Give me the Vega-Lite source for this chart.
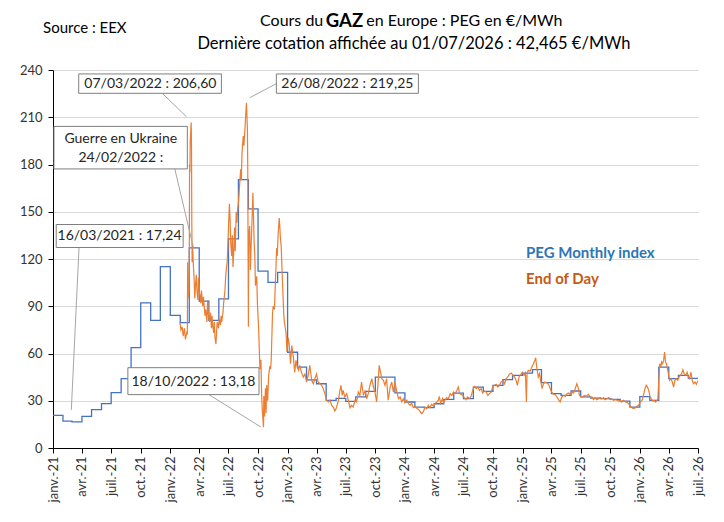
{
"$schema":"https://vega.github.io/schema/vega-lite/v6.json",
"width":645,"height":378,
"autosize":{"type":"none"},
"padding":{"left":53,"top":70,"right":26,"bottom":74},
"background":"white",
"config":{"view":{"stroke":null},"font":"Lato","text":{"font":"Lato"}},
"datasets":{
"monthly":[
{"d":"2021-01-01","v":20.7},{"d":"2021-02-01","v":17.1},{"d":"2021-03-01","v":16.6},{"d":"2021-04-01","v":20.1},{"d":"2021-05-01","v":24.4},{"d":"2021-06-01","v":28.2},{"d":"2021-07-01","v":35.1},{"d":"2021-08-01","v":44.0},{"d":"2021-09-01","v":63.7},{"d":"2021-10-01","v":92.2},{"d":"2021-11-01","v":81.0},{"d":"2021-12-01","v":115.2},
{"d":"2022-01-01","v":84.2},{"d":"2022-02-01","v":79.6},{"d":"2022-03-01","v":127.1},{"d":"2022-04-01","v":93.3},{"d":"2022-05-01","v":81.0},{"d":"2022-06-01","v":94.7},{"d":"2022-07-01","v":132.8},{"d":"2022-08-01","v":170.4},{"d":"2022-09-01","v":151.8},{"d":"2022-10-01","v":112.3},{"d":"2022-11-01","v":105.2},{"d":"2022-12-01","v":111.5},
{"d":"2023-01-01","v":60.8},{"d":"2023-02-01","v":51.4},{"d":"2023-03-01","v":43.2},{"d":"2023-04-01","v":40.8},{"d":"2023-05-01","v":30.3},{"d":"2023-06-01","v":31.5},{"d":"2023-07-01","v":29.6},{"d":"2023-08-01","v":32.5},{"d":"2023-09-01","v":36.0},{"d":"2023-10-01","v":45.0},{"d":"2023-11-01","v":45.0},{"d":"2023-12-01","v":35.0},
{"d":"2024-01-01","v":29.2},{"d":"2024-02-01","v":26.0},{"d":"2024-03-01","v":25.6},{"d":"2024-04-01","v":28.1},{"d":"2024-05-01","v":30.9},{"d":"2024-06-01","v":34.9},{"d":"2024-07-01","v":31.3},{"d":"2024-08-01","v":38.7},{"d":"2024-09-01","v":36.0},{"d":"2024-10-01","v":39.8},{"d":"2024-11-01","v":43.4},{"d":"2024-12-01","v":46.1},
{"d":"2025-01-01","v":47.5},{"d":"2025-02-01","v":49.8},{"d":"2025-03-01","v":41.5},{"d":"2025-04-01","v":34.5},{"d":"2025-05-01","v":33.4},{"d":"2025-06-01","v":36.2},{"d":"2025-07-01","v":32.4},{"d":"2025-08-01","v":31.7},{"d":"2025-09-01","v":31.3},{"d":"2025-10-01","v":30.9},{"d":"2025-11-01","v":29.8},{"d":"2025-12-01","v":26.0},
{"d":"2026-01-01","v":32.6},{"d":"2026-02-01","v":30.3},{"d":"2026-03-01","v":51.4},{"d":"2026-04-01","v":44.0},{"d":"2026-05-01","v":46.1},{"d":"2026-06-01","v":44.2},{"d":"2026-07-01","v":44.2}
],
"daily":[
{"d":"2022-01-31","v":79.5},{"d":"2022-02-03","v":75},{"d":"2022-02-07","v":77},{"d":"2022-02-10","v":71},{"d":"2022-02-14","v":76},{"d":"2022-02-17","v":69},{"d":"2022-02-21","v":73},{"d":"2022-02-23","v":72},{"d":"2022-02-24","v":118},{"d":"2022-02-25","v":95},{"d":"2022-02-28","v":100},
{"d":"2022-03-01","v":115},{"d":"2022-03-02","v":180},{"d":"2022-03-03","v":175},{"d":"2022-03-04","v":195},{"d":"2022-03-07","v":206.6},{"d":"2022-03-08","v":190},{"d":"2022-03-09","v":140},{"d":"2022-03-10","v":118},{"d":"2022-03-11","v":130},{"d":"2022-03-14","v":115},{"d":"2022-03-16","v":108},{"d":"2022-03-18","v":95},{"d":"2022-03-21","v":105},{"d":"2022-03-23","v":110},{"d":"2022-03-25","v":100},{"d":"2022-03-28","v":94},{"d":"2022-03-30","v":108},
{"d":"2022-04-01","v":100},{"d":"2022-04-04","v":96},{"d":"2022-04-06","v":92},{"d":"2022-04-08","v":100},{"d":"2022-04-12","v":90},{"d":"2022-04-14","v":96},{"d":"2022-04-19","v":84},{"d":"2022-04-21","v":88},{"d":"2022-04-25","v":80},{"d":"2022-04-27","v":94},{"d":"2022-04-29","v":86},
{"d":"2022-05-03","v":80},{"d":"2022-05-06","v":86},{"d":"2022-05-09","v":76},{"d":"2022-05-11","v":84},{"d":"2022-05-13","v":78},{"d":"2022-05-16","v":73},{"d":"2022-05-18","v":80},{"d":"2022-05-20","v":70},{"d":"2022-05-23","v":66},{"d":"2022-05-25","v":74},{"d":"2022-05-27","v":80},{"d":"2022-05-31","v":76},
{"d":"2022-06-02","v":82},{"d":"2022-06-06","v":78},{"d":"2022-06-08","v":84},{"d":"2022-06-10","v":80},{"d":"2022-06-14","v":86},{"d":"2022-06-16","v":92},{"d":"2022-06-20","v":100},{"d":"2022-06-22","v":108},{"d":"2022-06-24","v":113},{"d":"2022-06-27","v":118},{"d":"2022-06-29","v":128},
{"d":"2022-07-01","v":140},{"d":"2022-07-04","v":155},{"d":"2022-07-06","v":145},{"d":"2022-07-08","v":130},{"d":"2022-07-11","v":122},{"d":"2022-07-13","v":135},{"d":"2022-07-15","v":115},{"d":"2022-07-18","v":128},{"d":"2022-07-20","v":140},{"d":"2022-07-22","v":125},{"d":"2022-07-25","v":150},{"d":"2022-07-27","v":143},{"d":"2022-07-29","v":150},
{"d":"2022-08-02","v":158},{"d":"2022-08-04","v":165},{"d":"2022-08-08","v":177},{"d":"2022-08-10","v":170},{"d":"2022-08-12","v":187},{"d":"2022-08-16","v":198},{"d":"2022-08-18","v":192},{"d":"2022-08-22","v":205},{"d":"2022-08-24","v":213},{"d":"2022-08-26","v":219.25},{"d":"2022-08-29","v":202},{"d":"2022-08-30","v":177},
{"d":"2022-09-01","v":77},{"d":"2022-09-02","v":134},{"d":"2022-09-05","v":141},{"d":"2022-09-07","v":113},{"d":"2022-09-09","v":125},{"d":"2022-09-13","v":149},{"d":"2022-09-15","v":162},{"d":"2022-09-19","v":130},{"d":"2022-09-21","v":122},{"d":"2022-09-23","v":103},{"d":"2022-09-27","v":109},{"d":"2022-09-29","v":92},
{"d":"2022-10-03","v":75},{"d":"2022-10-05","v":62},{"d":"2022-10-07","v":50},{"d":"2022-10-10","v":56},{"d":"2022-10-12","v":35},{"d":"2022-10-14","v":25},{"d":"2022-10-18","v":13.18},{"d":"2022-10-19","v":33},{"d":"2022-10-21","v":20},{"d":"2022-10-24","v":38},{"d":"2022-10-26","v":22},{"d":"2022-10-28","v":40},{"d":"2022-10-31","v":30},
{"d":"2022-11-03","v":46},{"d":"2022-11-07","v":52},{"d":"2022-11-09","v":50},{"d":"2022-11-11","v":56},{"d":"2022-11-15","v":85},{"d":"2022-11-17","v":90},{"d":"2022-11-21","v":88},{"d":"2022-11-24","v":105},{"d":"2022-11-28","v":127},{"d":"2022-11-30","v":122},
{"d":"2022-12-02","v":134},{"d":"2022-12-06","v":146},{"d":"2022-12-08","v":140},{"d":"2022-12-09","v":135},{"d":"2022-12-12","v":128},{"d":"2022-12-15","v":111},{"d":"2022-12-20","v":85},{"d":"2022-12-22","v":80},{"d":"2022-12-27","v":73},{"d":"2022-12-30","v":61},
{"d":"2023-01-03","v":70},{"d":"2023-01-06","v":66},{"d":"2023-01-10","v":53.5},{"d":"2023-01-14","v":65},{"d":"2023-01-19","v":57.7},{"d":"2023-01-23","v":48},{"d":"2023-01-27","v":55.6},{"d":"2023-01-31","v":51.4},
{"d":"2023-02-04","v":49.3},{"d":"2023-02-08","v":52.5},{"d":"2023-02-13","v":48},{"d":"2023-02-19","v":45},{"d":"2023-02-24","v":47},{"d":"2023-03-01","v":41.9},{"d":"2023-03-06","v":46},{"d":"2023-03-11","v":52.5},{"d":"2023-03-17","v":43},{"d":"2023-03-22","v":40.8},{"d":"2023-03-27","v":44},
{"d":"2023-04-01","v":47},{"d":"2023-04-06","v":41.9},{"d":"2023-04-12","v":40.8},{"d":"2023-04-17","v":39.8},{"d":"2023-04-22","v":37.7},{"d":"2023-04-27","v":34.5},{"d":"2023-05-02","v":30.3},{"d":"2023-05-08","v":29.2},{"d":"2023-05-13","v":30.3},{"d":"2023-05-18","v":27.1},{"d":"2023-05-23","v":26},{"d":"2023-05-28","v":23.5},
{"d":"2023-06-02","v":25.6},{"d":"2023-06-08","v":30.3},{"d":"2023-06-13","v":36.6},{"d":"2023-06-16","v":39.8},{"d":"2023-06-20","v":33.4},{"d":"2023-06-23","v":36.6},{"d":"2023-06-28","v":32.4},{"d":"2023-07-04","v":34.5},{"d":"2023-07-09","v":30.3},{"d":"2023-07-14","v":25.6},{"d":"2023-07-19","v":27.1},{"d":"2023-07-24","v":26},{"d":"2023-07-30","v":30.3},
{"d":"2023-08-04","v":29.2},{"d":"2023-08-09","v":35.5},{"d":"2023-08-14","v":33.4},{"d":"2023-08-19","v":41.9},{"d":"2023-08-25","v":33.4},{"d":"2023-08-30","v":36.6},{"d":"2023-09-04","v":31.3},{"d":"2023-09-09","v":34.5},{"d":"2023-09-14","v":39.8},{"d":"2023-09-20","v":44},{"d":"2023-09-25","v":38.7},{"d":"2023-09-30","v":35.5},
{"d":"2023-10-05","v":29.2},{"d":"2023-10-10","v":43},{"d":"2023-10-13","v":52.5},{"d":"2023-10-18","v":47.2},{"d":"2023-10-21","v":44},{"d":"2023-10-26","v":43},{"d":"2023-10-31","v":39.8},{"d":"2023-11-05","v":44},{"d":"2023-11-10","v":30.3},{"d":"2023-11-16","v":38.7},{"d":"2023-11-21","v":41.9},{"d":"2023-11-26","v":35.5},
{"d":"2023-12-01","v":41.9},{"d":"2023-12-06","v":36.6},{"d":"2023-12-12","v":31.3},{"d":"2023-12-17","v":32.4},{"d":"2023-12-22","v":29.2},{"d":"2023-12-27","v":31.3},{"d":"2024-01-01","v":28.6},{"d":"2024-01-07","v":30.3},{"d":"2024-01-12","v":28.2},{"d":"2024-01-17","v":27.1},{"d":"2024-01-22","v":28.6},{"d":"2024-01-27","v":25.6},
{"d":"2024-02-02","v":26.5},{"d":"2024-02-07","v":25.2},{"d":"2024-02-15","v":23.9},{"d":"2024-02-22","v":21.8},{"d":"2024-02-27","v":22.9},{"d":"2024-03-04","v":26},{"d":"2024-03-09","v":25},{"d":"2024-03-14","v":27.1},{"d":"2024-03-19","v":25.6},{"d":"2024-03-24","v":27.7},{"d":"2024-03-30","v":26.5},
{"d":"2024-04-04","v":28.2},{"d":"2024-04-09","v":29.2},{"d":"2024-04-14","v":30.3},{"d":"2024-04-17","v":32.8},{"d":"2024-04-21","v":28.6},{"d":"2024-04-27","v":31.3},{"d":"2024-04-30","v":28.6},{"d":"2024-05-05","v":30.3},{"d":"2024-05-10","v":32},{"d":"2024-05-15","v":31.3},{"d":"2024-05-21","v":34.5},{"d":"2024-05-26","v":33.4},{"d":"2024-05-31","v":35.5},
{"d":"2024-06-05","v":34.5},{"d":"2024-06-10","v":36.2},{"d":"2024-06-15","v":38.7},{"d":"2024-06-19","v":34.9},{"d":"2024-06-23","v":34.1},{"d":"2024-06-29","v":33.4},{"d":"2024-07-04","v":32},{"d":"2024-07-09","v":30.7},{"d":"2024-07-14","v":32.4},{"d":"2024-07-20","v":31.3},{"d":"2024-07-25","v":32.8},{"d":"2024-07-30","v":36.6},
{"d":"2024-08-04","v":39.1},{"d":"2024-08-10","v":37.7},{"d":"2024-08-15","v":38.7},{"d":"2024-08-20","v":36.6},{"d":"2024-08-25","v":37.7},{"d":"2024-08-30","v":34.9},{"d":"2024-09-04","v":36.2},{"d":"2024-09-10","v":35.5},{"d":"2024-09-15","v":33.4},{"d":"2024-09-20","v":34.5},{"d":"2024-09-25","v":35.5},{"d":"2024-09-30","v":38.7},
{"d":"2024-10-06","v":39.8},{"d":"2024-10-11","v":40.4},{"d":"2024-10-16","v":38.7},{"d":"2024-10-21","v":39.8},{"d":"2024-10-26","v":41.9},{"d":"2024-11-01","v":43},{"d":"2024-11-06","v":40.8},{"d":"2024-11-11","v":44},{"d":"2024-11-16","v":45.1},{"d":"2024-11-21","v":46.8},{"d":"2024-11-27","v":47.6},
{"d":"2024-12-02","v":46.1},{"d":"2024-12-07","v":45.1},{"d":"2024-12-12","v":43},{"d":"2024-12-16","v":39.8},{"d":"2024-12-21","v":45.1},{"d":"2024-12-27","v":46.8},{"d":"2025-01-01","v":48.2},{"d":"2025-01-06","v":46.1},{"d":"2025-01-10","v":47.6},{"d":"2025-01-13","v":29.2},{"d":"2025-01-15","v":47.2},{"d":"2025-01-19","v":49.3},{"d":"2025-01-25","v":48.9},{"d":"2025-01-30","v":51.4},
{"d":"2025-02-04","v":53.5},{"d":"2025-02-08","v":55.6},{"d":"2025-02-11","v":57.3},{"d":"2025-02-14","v":51.4},{"d":"2025-02-19","v":45.1},{"d":"2025-02-23","v":47.2},{"d":"2025-02-27","v":41.9},{"d":"2025-03-03","v":37.7},{"d":"2025-03-07","v":40.8},{"d":"2025-03-12","v":41.9},{"d":"2025-03-18","v":41.3},{"d":"2025-03-23","v":40.4},{"d":"2025-03-28","v":37.7},
{"d":"2025-04-02","v":35.5},{"d":"2025-04-07","v":34.1},{"d":"2025-04-13","v":33.8},{"d":"2025-04-18","v":32.4},{"d":"2025-04-23","v":30.7},{"d":"2025-04-28","v":29.2},{"d":"2025-05-03","v":32.4},{"d":"2025-05-09","v":33.4},{"d":"2025-05-14","v":32.8},{"d":"2025-05-19","v":34.5},{"d":"2025-05-24","v":34.9},{"d":"2025-05-29","v":34.1},
{"d":"2025-06-03","v":35.5},{"d":"2025-06-09","v":34.9},{"d":"2025-06-14","v":37.7},{"d":"2025-06-19","v":40.8},{"d":"2025-06-24","v":37.7},{"d":"2025-06-27","v":33.4},{"d":"2025-07-02","v":32.8},{"d":"2025-07-07","v":32.4},{"d":"2025-07-12","v":33.4},{"d":"2025-07-18","v":32.8},{"d":"2025-07-25","v":34.1},{"d":"2025-07-31","v":32},
{"d":"2025-08-05","v":32.4},{"d":"2025-08-10","v":30.7},{"d":"2025-08-15","v":32},{"d":"2025-08-20","v":30.7},{"d":"2025-08-26","v":31.3},{"d":"2025-08-31","v":32},{"d":"2025-09-05","v":31.1},{"d":"2025-09-10","v":32},{"d":"2025-09-15","v":30.7},{"d":"2025-09-20","v":31.3},{"d":"2025-09-26","v":32},
{"d":"2025-10-01","v":30.7},{"d":"2025-10-06","v":31.1},{"d":"2025-10-11","v":30.3},{"d":"2025-10-16","v":30.7},{"d":"2025-10-22","v":30.3},{"d":"2025-10-27","v":29.8},{"d":"2025-11-01","v":30.3},{"d":"2025-11-06","v":29.2},{"d":"2025-11-11","v":30.3},{"d":"2025-11-17","v":29.2},{"d":"2025-11-22","v":29},{"d":"2025-11-27","v":28.2},
{"d":"2025-12-02","v":26.5},{"d":"2025-12-07","v":25.6},{"d":"2025-12-13","v":25},{"d":"2025-12-18","v":25.6},{"d":"2025-12-23","v":26.5},{"d":"2025-12-28","v":27.1},{"d":"2026-01-02","v":29.2},{"d":"2026-01-08","v":30.3},{"d":"2026-01-13","v":34.1},{"d":"2026-01-17","v":37.7},{"d":"2026-01-21","v":39.8},{"d":"2026-01-25","v":38.7},{"d":"2026-01-29","v":36.2},
{"d":"2026-02-02","v":32.4},{"d":"2026-02-07","v":30.7},{"d":"2026-02-11","v":29.8},{"d":"2026-02-15","v":30.3},{"d":"2026-02-19","v":29.2},{"d":"2026-02-23","v":30.3},{"d":"2026-02-26","v":30.7},
{"d":"2026-03-01","v":43},{"d":"2026-03-04","v":53.5},{"d":"2026-03-07","v":51.4},{"d":"2026-03-10","v":54.6},{"d":"2026-03-13","v":53.5},{"d":"2026-03-16","v":55.6},{"d":"2026-03-19","v":60.9},{"d":"2026-03-22","v":54.6},{"d":"2026-03-25","v":53.5},{"d":"2026-03-28","v":50.3},
{"d":"2026-04-01","v":46.1},{"d":"2026-04-04","v":43},{"d":"2026-04-08","v":44},{"d":"2026-04-12","v":41.9},{"d":"2026-04-16","v":38.7},{"d":"2026-04-20","v":43},{"d":"2026-04-24","v":44},{"d":"2026-04-29","v":43},
{"d":"2026-05-03","v":45.1},{"d":"2026-05-07","v":46.1},{"d":"2026-05-11","v":47.2},{"d":"2026-05-15","v":49.7},{"d":"2026-05-19","v":47.2},{"d":"2026-05-24","v":46.1},{"d":"2026-05-28","v":48.2},
{"d":"2026-06-01","v":45.1},{"d":"2026-06-05","v":44},{"d":"2026-06-09","v":48.2},{"d":"2026-06-13","v":43},{"d":"2026-06-17","v":40.8},{"d":"2026-06-22","v":41.9},{"d":"2026-06-26","v":40.4},{"d":"2026-06-30","v":42.5},{"d":"2026-07-01","v":42.465}
]
},
"encoding":{
  "x":{"field":"d","type":"temporal",
   "scale":{"type":"utc","domain":[{"year":2021,"month":1,"date":1,"utc":true},{"year":2026,"month":7,"date":1,"utc":true}],"nice":false},
   "axis":{"title":null,"tickCount":{"interval":"month","step":3},"labelExpr":"['janv.','févr.','mars','avr.','mai','juin','juil.','août','sept.','oct.','nov.','déc.'][utcmonth(datum.value)] + '-' + utcFormat(datum.value, '%y')","labelAngle":-90,"labelAlign":"right","labelBaseline":"middle","labelFont":"Lato","labelFontSize":13,"labelColor":"#333333","labelPadding":3,"labelOverlap":false,"labelFlush":false,"domainColor":"#000000","tickColor":"#000000","tickSize":5,"grid":false}},
  "y":{"field":"v","type":"quantitative",
   "scale":{"domain":[0,240],"nice":false,"zero":true},
   "axis":{"title":null,"values":[0,30,60,90,120,150,180,210,240],"grid":true,"gridColor":"#d9d9d9","domainColor":"#000000","tickColor":"#000000","tickSize":5,"labelPadding":6,"labelFont":"Lato","labelFontSize":13,"labelColor":"#333333"}}
},
"layer":[
{"data":{"name":"monthly"},
 "mark":{"type":"line","interpolate":"step-after","color":"#4472C4","strokeWidth":1.3}},
{"data":{"name":"daily"},
 "mark":{"type":"line","color":"#ED7D31","strokeWidth":1.2}},
{"data":{"values":[
  {"d":"2021-12-09","d2":"2022-02-20","v":224.8,"v2":210.4},
  {"d":"2022-11-27","d2":"2022-09-05","v":231.3,"v2":222.4},
  {"d":"2022-01-15","d2":"2022-03-13","v":177.2,"v2":127.9},
  {"d":"2021-03-23","d2":"2021-02-27","v":127.3,"v2":24.2},
  {"d":"2022-05-01","d2":"2022-10-10","v":33.9,"v2":13.3}
 ],"format":{"parse":{"d":"date","d2":"date"}}},
 "mark":{"type":"rule","color":"#a6a6a6","strokeWidth":1},
 "encoding":{"x2":{"field":"d2"},"y2":{"field":"v2"}}},
{"data":{"values":[
  {"d":"2021-03-22","d2":"2022-06-09","v":237.5,"v2":225.2},
  {"d":"2022-11-27","d2":"2024-02-12","v":237.5,"v2":225.2},
  {"d":"2021-01-04","d2":"2022-02-23","v":204.2,"v2":177.2},
  {"d":"2021-01-11","d2":"2022-02-10","v":141.9,"v2":127.3},
  {"d":"2021-08-22","d2":"2022-10-04","v":51.0,"v2":33.9}
 ],"format":{"parse":{"d":"date","d2":"date"}}},
 "mark":{"type":"rect","fill":"white","stroke":"#7f7f7f","strokeWidth":1},
 "encoding":{"x2":{"field":"d2"},"y2":{"field":"v2"}}},
{"data":{"values":[
  {"d":"2021-10-31","v":231.3,"t":"07/03/2022 : 206,60"},
  {"d":"2023-07-06","v":231.3,"t":"26/08/2022 : 219,25"},
  {"d":"2021-07-31","v":196.0,"t":"Guerre en Ukraine"},
  {"d":"2021-07-31","v":184.2,"t":"24/02/2022 :"},
  {"d":"2021-07-27","v":134.3,"t":"16/03/2021 : 17,24"},
  {"d":"2022-03-14","v":41.9,"t":"18/10/2022 : 13,18"}
 ]},
 "mark":{"type":"text","font":"Lato","fontSize":14,"color":"#262626","align":"center","baseline":"middle"},
 "encoding":{"text":{"field":"t"}}},
{"data":{"values":[{"d":"2025-01-12","v":124.1,"t":"PEG Monthly index"}]},
 "mark":{"type":"text","font":"Lato","fontSize":15,"fontWeight":"bold","color":"#2E75B6","align":"left","baseline":"middle"},
 "encoding":{"text":{"field":"t"}}},
{"data":{"values":[{"d":"2025-01-12","v":107.6,"t":"End of Day"}]},
 "mark":{"type":"text","font":"Lato","fontSize":15,"fontWeight":"bold","color":"#C55A11","align":"left","baseline":"middle"},
 "encoding":{"text":{"field":"t"}}},
{"data":{"values":[{"d":"2023-04-22","v":271.3,"t":"Cours du"}]},
 "mark":{"type":"text","font":"Lato","fontSize":16,"color":"#000000","align":"right","baseline":"middle"},
 "encoding":{"text":{"field":"t"}}},
{"data":{"values":[{"d":"2023-06-27","v":271.3,"t":"GAZ"}]},
 "mark":{"type":"text","font":"Lato","fontSize":18.5,"fontWeight":"bold","color":"#000000","align":"center","baseline":"middle"},
 "encoding":{"text":{"field":"t"}}},
{"data":{"values":[{"d":"2023-09-03","v":271.3,"t":"en Europe : PEG en €/MWh"}]},
 "mark":{"type":"text","font":"Lato","fontSize":16,"color":"#000000","align":"left","baseline":"middle"},
 "encoding":{"text":{"field":"t"}}},
{"data":{"values":[
  {"d":"2024-01-29","v":256.7,"t":"Dernière cotation affichée au 01/07/2026 : 42,465 €/MWh"}
 ]},
 "mark":{"type":"text","font":"Lato","fontSize":16.5,"color":"#000000","align":"center","baseline":"middle"},
 "encoding":{"text":{"field":"t"}}},
{"data":{"values":[
  {"d":"2021-04-10","v":266.8,"t":"Source : EEX"}
 ]},
 "mark":{"type":"text","font":"Lato","fontSize":15,"color":"#000000","align":"center","baseline":"middle"},
 "encoding":{"text":{"field":"t"}}}
]
}
